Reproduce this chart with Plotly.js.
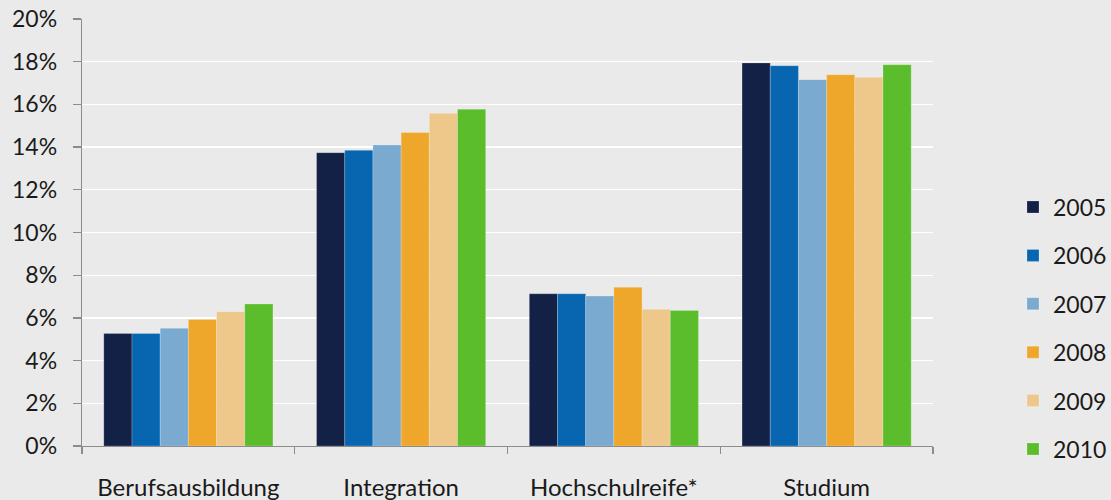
<!DOCTYPE html>
<html>
<head>
<meta charset="utf-8">
<script src="https://cdn.plot.ly/plotly-3.0.1.min.js"></script>
<style>html,body{margin:0;padding:0;background:#eaeaea;}#chart{width:1111px;height:500px;}</style>
</head>
<body>
<div id="chart"></div>
<script>
const categories = ["Berufsausbildung", "Integration", "Hochschulreife*", "Studium"];
const years = ["2005", "2006", "2007", "2008", "2009", "2010"];
const v2005 = [5.27, 13.74, 7.13, 17.94];
const v2006 = [5.27, 13.85, 7.13, 17.81];
const v2007 = [5.51, 14.10, 7.02, 17.16];
const v2008 = [5.93, 14.68, 7.44, 17.39];
const v2009 = [6.29, 15.58, 6.41, 17.27];
const v2010 = [6.65, 15.77, 6.35, 17.86];
const seriesValues = [v2005, v2006, v2007, v2008, v2009, v2010];
const colors = ["#122145", "#0866b0", "#7aaad0", "#efa72b", "#eec88a", "#5bbd2b"];
const yTickVals = [0, 2, 4, 6, 8, 10, 12, 14, 16, 18, 20];
const yTickText = yTickVals.map(v => v + "%");

const traces = years.map((yr, i) => ({
  type: "bar",
  name: yr,
  x: categories,
  y: seriesValues[i],
  legendgroup: "g" + yr,
  marker: {color: colors[i], line: {width: 0.6, color: "rgba(255,255,255,0.35)"}},
  hoverinfo: "skip"
}));

const fam = "Lato, 'Open Sans', sans-serif";

const layout = {
  width: 1111, height: 500,
  paper_bgcolor: "#eaeaea",
  plot_bgcolor: "#eaeaea",
  font: {family: fam, size: 22, color: "#1a1a1a"},
  margin: {l: 82, r: 178, t: 19, b: 54, pad: 0, autoexpand: false},
  barmode: "group",
  bargap: 0.205,
  bargroupgap: 0,
  showlegend: true,
  legend: {
    x: 1.094, xanchor: "left", y: 0.61, yanchor: "top",
    bgcolor: "rgba(0,0,0,0)",
    font: {family: fam, size: 23, color: "#1a1a1a"},
    tracegroupgap: 15.5,
    traceorder: "grouped"
  },
  xaxis: {
    type: "category",
    showline: true, linecolor: "#8c8c8c", linewidth: 1.3,
    ticks: "outside", tickson: "boundaries", ticklen: 7, tickcolor: "#8c8c8c", tickwidth: 1.3,
    ticklabelstandoff: 20,
    showgrid: false, zeroline: false,
    automargin: false,
    tickfont: {family: fam, size: 24, color: "#1a1a1a"}
  },
  yaxis: {
    range: [0, 20],
    tickvals: yTickVals, ticktext: yTickText,
    showline: true, linecolor: "#8c8c8c", linewidth: 1.3,
    ticks: "outside", ticklen: 8, tickcolor: "#8c8c8c", tickwidth: 1.3,
    ticklabelstandoff: 11,
    showgrid: true, gridcolor: "#ffffff", gridwidth: 1.3,
    zeroline: false,
    automargin: false,
    tickfont: {family: fam, size: 23, color: "#1a1a1a"}
  }
};

Plotly.newPlot("chart", traces, layout, {displayModeBar: false, staticPlot: true});
</script>
</body>
</html>
